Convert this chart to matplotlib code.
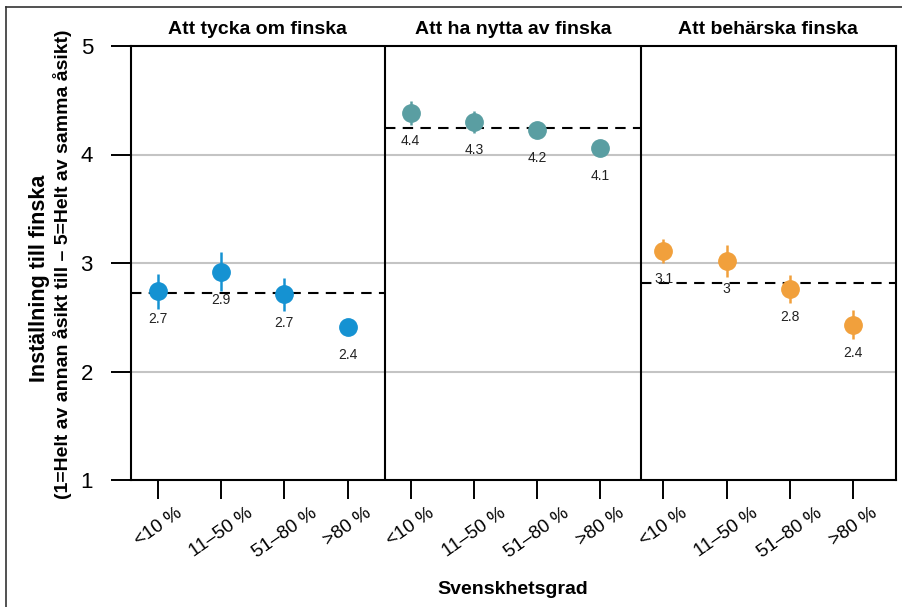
import matplotlib
matplotlib.use("Agg")
import matplotlib.pyplot as plt
from matplotlib.lines import Line2D
import numpy as np

plt.rcParams['font.family'] = ['Liberation Sans', 'DejaVu Sans']

# ---- data ----
panels = ["Att tycka om finska", "Att ha nytta av finska", "Att behärska finska"]
categories = ["<10 %", "11–50 %", "51–80 %", ">80 %"]
values_tycka = [2.74, 2.92, 2.71, 2.41]
values_nytta = [4.38, 4.30, 4.23, 4.06]
values_beharska = [3.11, 3.02, 2.76, 2.43]
err_tycka = [0.16, 0.18, 0.15, 0.05]
err_nytta = [0.11, 0.10, 0.05, 0.05]
err_beharska = [0.11, 0.15, 0.125, 0.135]
means = [2.72, 4.24, 2.82]
colors = ["#1592d2", "#5a9ea2", "#f1a03c"]
yticks = [1, 2, 3, 4, 5]
ylabel_line1 = "Inställning till finska"
ylabel_line2 = "(1=Helt av annan åsikt till – 5=Helt av samma åsikt)"
xlabel = "Svenskhetsgrad"

values = [values_tycka, values_nytta, values_beharska]
errs = [err_tycka, err_nytta, err_beharska]

W, H = 903, 607
fig = plt.figure(figsize=(W / 100, H / 100), dpi=100)
ax = fig.add_axes([131 / W, 1 - 480 / H, (896 - 131) / W, (480 - 46) / H])

n = len(categories)
xlim = (0.573, 12.68)
dividers = [4.59, 8.64]
bounds = [xlim[0]] + dividers + [xlim[1]]

ax.set_xlim(*xlim)
ax.set_ylim(1, 5)

for yv in [2, 3, 4]:
    ax.axhline(yv, color="#c4c4c4", lw=1.5, zorder=0)

for d in dividers:
    ax.axvline(d, color="black", lw=1.5, zorder=3)

def fmt(v):
    return f"{round(v, 1):g}"

xt = []
for p in range(3):
    xs = np.arange(n) + 1 + p * n
    xt.extend(xs)
    ax.hlines(means[p], bounds[p], bounds[p + 1], colors="black", lw=1.5,
              linestyles=(0, (5, 3.5)), zorder=2)
    ax.errorbar(xs, values[p], yerr=errs[p], fmt="o", color=colors[p],
                ms=12.5, elinewidth=1.8, capsize=0, zorder=4)
    for x, v in zip(xs, values[p]):
        ax.text(x, v - 0.26, fmt(v), ha="center", va="center", fontsize=10,
                color="#222222", zorder=5)
    ax.text((bounds[p] + bounds[p + 1]) / 2, 1.037, panels[p],
            transform=ax.get_xaxis_transform(), ha="center", va="center",
            fontsize=14, fontweight="bold")

ax.set_xticks(xt)
ax.set_xticklabels(categories * 3, rotation=35, ha="center", va="top",
                   fontsize=13.5)
ax.set_yticks(yticks)
ax.set_yticklabels([str(t) for t in yticks], fontsize=16)
ax.tick_params(axis="y", length=14.4, width=1.4, pad=13)
ax.tick_params(axis="x", length=13.7, width=1.4, pad=4)
for s in ax.spines.values():
    s.set_linewidth(1.5)

fig.text(40 / W, 1 - 278 / H, ylabel_line1, rotation=90, ha="center", va="center",
         fontsize=15.5, fontweight="bold")
fig.text(63 / W, 1 - 264 / H, ylabel_line2, rotation=90, ha="center", va="center",
         fontsize=14, fontweight="bold")
fig.text(513 / W, 1 - 590 / H, xlabel, ha="center", va="center",
         fontsize=14, fontweight="bold")

# outer frame (top and left edges visible)
fig.add_artist(Line2D([6 / W, 6 / W], [0, 1 - 7 / H], transform=fig.transFigure,
                      color="#333333", lw=1.2))
fig.add_artist(Line2D([6 / W, 1], [1 - 7 / H, 1 - 7 / H], transform=fig.transFigure,
                      color="#333333", lw=1.2))

fig.savefig("out.png", dpi=100)
